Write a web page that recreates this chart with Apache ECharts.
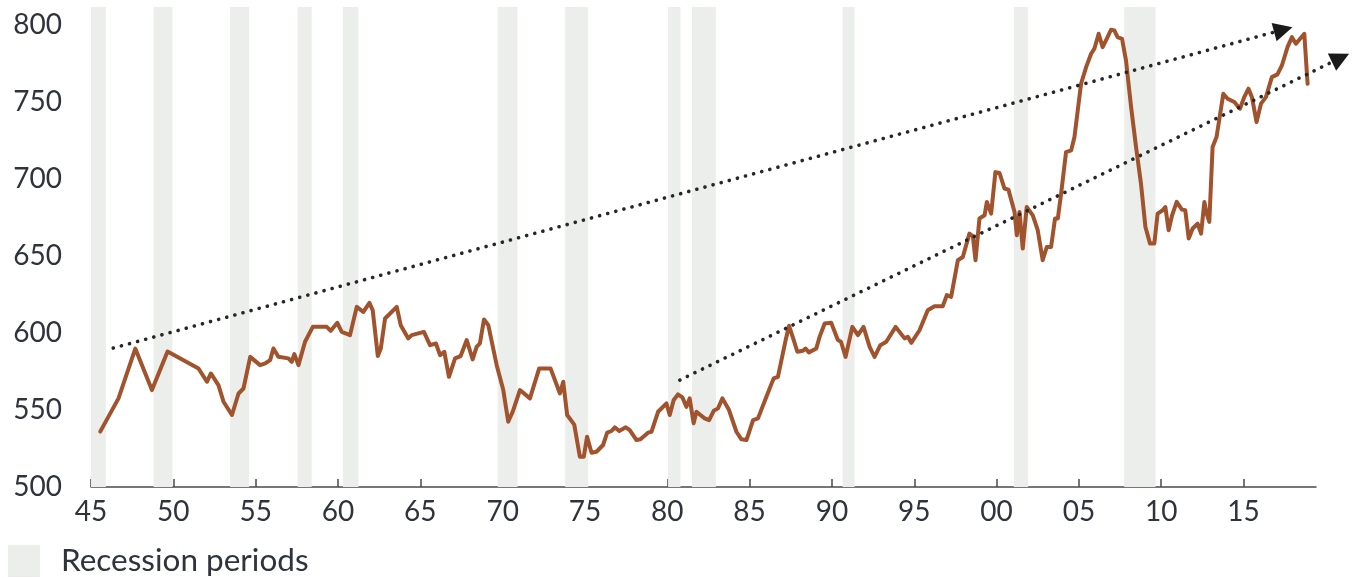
<!DOCTYPE html>
<html>
<head>
<meta charset="utf-8">
<script src="https://cdn.jsdelivr.net/npm/echarts@6/dist/echarts.min.js"></script>
<style>
html,body{margin:0;padding:0;background:#fff;}
#chart{width:1361px;height:578px;}
</style>
</head>
<body>
<div id="chart"></div>
<script>
// ---- data ----
const years = [
1945.56,1946.67,1947.69,1948.70,1949.65,1951.53,1952.04,1952.28,1952.74,1953.05,1953.56,1953.96,1954.26,1954.67,
1955.27,1955.58,1955.88,1956.08,1956.38,1956.99,1957.19,1957.35,1957.60,1958.00,1958.47,1959.32,1959.56,1959.96,
1960.23,1960.73,1961.14,1961.54,1961.91,1962.11,1962.42,1962.60,1962.86,1963.57,1963.81,1964.27,1964.48,1965.22,
1965.59,1965.95,1966.20,1966.46,1966.74,1967.11,1967.45,1967.82,1968.18,1968.42,1968.62,1968.87,1969.13,1969.64,
1970.04,1970.34,1970.61,1971.05,1971.66,1972.22,1972.91,1973.48,1973.68,1973.92,1974.35,1974.69,1974.93,1975.13,
1975.40,1975.70,1976.10,1976.35,1976.61,1976.81,1977.08,1977.48,1977.72,1978.13,1978.37,1978.83,1979.04,1979.44,
1979.95,1980.15,1980.39,1980.65,1980.92,1981.16,1981.36,1981.60,1981.77,1982.27,1982.54,1982.82,1983.08,1983.35,
1983.75,1984.20,1984.50,1984.81,1985.21,1985.51,1986.02,1986.46,1986.72,1987.19,1987.40,1987.68,1987.90,1988.24,
1988.40,1988.60,1989.05,1989.25,1989.56,1989.96,1990.36,1990.55,1990.83,1991.24,1991.58,1991.92,1992.29,1992.59,
1992.94,1993.30,1993.87,1994.41,1994.61,1994.82,1995.32,1995.82,1996.23,1996.73,1996.98,1997.24,1997.65,1997.95,
1998.35,1998.56,1998.72,1998.96,1999.27,1999.41,1999.67,1999.93,2000.18,2000.48,2000.72,2001.09,2001.23,2001.39,
2001.59,2001.83,2002.20,2002.50,2002.80,2003.05,2003.31,2003.55,2003.72,2003.92,2004.22,2004.53,2004.73,2005.13,
2005.44,2005.74,2005.94,2006.20,2006.44,2006.69,2006.95,2007.15,2007.35,2007.62,2007.86,2008.17,2008.47,2008.77,
2009.04,2009.32,2009.58,2009.78,2010.09,2010.25,2010.45,2010.66,2010.94,2011.26,2011.46,2011.67,2011.91,2012.21,
2012.42,2012.62,2012.76,2012.92,2013.12,2013.36,2013.77,2014.03,2014.44,2014.78,2015.04,2015.30,2015.51,2015.79,
2016.06,2016.36,2016.72,2017.06,2017.33,2017.67,2017.94,2018.18,2018.69,2018.89
];
const values = [
536,557.6,590,563,588,577,568.4,573.8,566.2,555.4,546.8,560.8,564,584.6,
579.2,580.3,582.5,590,584.6,583.6,581.4,586.4,579.2,594.4,604.1,604.1,601.5,606.7,
600.8,598.7,617.1,613.8,619.7,614.9,585.1,590,609.5,617.1,605.2,596.6,598.7,600.8,
592.2,593.3,585.7,587.9,571.6,583.6,585.1,595.5,582.9,591.1,593.3,608.9,605.2,579.2,
563,542.4,548.9,563,557.6,577.1,577.1,560.8,568.4,546.8,540.5,519.7,519.7,532.7,
522.3,522.9,527.3,535.3,536.4,538.8,536.4,538.8,537,530.5,531,535.3,535.9,548.9,
554.3,546.8,556.5,560.2,558.2,552.1,557.6,541.4,548.9,544.6,543.5,549.5,551.1,557.6,
550,535.9,531,530.5,543.5,544.6,558.6,570.6,571.6,595.5,604.8,595.5,587.9,588.5,
590,587.5,590,597.6,606.3,606.7,595.5,594.4,584.6,604.1,598.7,604.1,591.1,584.6,
592.2,594.4,604.1,596.6,597.6,593.7,601.9,614.9,617.5,617.5,624.7,623.6,647.4,649.5,
664.7,663,647.4,674.5,676.6,685.3,677.7,704.7,704.1,694,693.3,678.8,663.6,678.8,
655,682,676.6,666.9,647.4,656,656,674.5,674.5,690.7,717.7,718.8,727.5,762.1,
772.9,781.6,784.9,794.6,785.9,791.3,797.2,796.8,792.4,791.3,777.3,747,721,697.2,
669,658.2,658.2,677.7,679.9,682,666.9,676.6,685.3,680.3,679.9,661.5,668,671.2,
664.7,685.3,677.7,672.3,721,727.5,755.6,752.4,750.2,745.9,753.4,758.9,753.4,737.2,
749.2,753.4,766.4,768.2,774,785.9,792.4,788.1,794.6,762.1
];
// recession periods [start, end] in years
const recessionStarts = [1945.0,1948.8,1953.45,1957.55,1960.3,1969.7,1973.8,1980.05,1981.5,1990.65,2001.05,2007.75];
const recessionEnds   = [1945.9,1949.95,1954.6,1958.4,1961.25,1970.9,1975.2,1980.8,1982.95,1991.38,2001.92,2009.65];
// trend arrows [startYear, startValue, endYear, endValue]
const trendStartYears  = [1946.35, 1980.76];
const trendStartValues = [590.3, 569.5];
const trendEndYears    = [2017.97, 2021.41];
const trendEndValues   = [798.9, 781.6];
const xTickYears = [1945,1950,1955,1960,1965,1970,1975,1980,1985,1990,1995,2000,2005,2010,2015];
const yTickValues = [500,550,600,650,700,750,800];
const legendLabel = 'Recession periods';

// ---- chart ----
const X_MIN = 1945, X_MAX = 2019.4, Y_MIN = 500, Y_MAX = 812;
const TEXT = '#2f343c';
const FONT = 'Lato';

const lineData = years.map((y, i) => [y, values[i]]);
const bandData = recessionStarts.map((s, i) => [s, recessionEnds[i]]);
const trendData = trendStartYears.map((s, i) => [s, trendStartValues[i], trendEndYears[i], trendEndValues[i]]);

const chart = echarts.init(document.getElementById('chart'), null, {renderer: 'canvas'});
chart.setOption({
  animation: false,
  backgroundColor: '#ffffff',
  grid: {left: 91, right: 45, top: 7, bottom: 91, containLabel: false},
  legend: {
    data: [legendLabel],
    left: 3, top: 540,
    itemWidth: 32, itemHeight: 32,
    icon: 'rect',
    selectedMode: false,
    textStyle: {fontFamily: FONT, fontSize: 31.5, color: TEXT, padding: [5, 0, 0, 16]}
  },
  xAxis: {
    type: 'value', min: X_MIN, max: X_MAX,
    axisLine: {show: true, lineStyle: {color: '#4a4a4a', width: 1.5}},
    axisTick: {show: true, inside: true, length: 8, lineStyle: {color: '#4a4a4a', width: 1.5}, customValues: xTickYears},
    splitLine: {show: false},
    axisLabel: {
      customValues: xTickYears,
      formatter: v => String(Math.round(v) % 100).padStart(2, '0'),
      fontFamily: FONT, fontSize: 28, color: TEXT, margin: 11
    }
  },
  yAxis: {
    type: 'value', min: Y_MIN, max: Y_MAX,
    axisLine: {show: false}, axisTick: {show: false}, splitLine: {show: false},
    axisLabel: {customValues: yTickValues, fontFamily: FONT, fontSize: 28, color: TEXT, margin: 29}
  },
  series: [
    {
      name: legendLabel,
      type: 'custom',
      data: bandData,
      encode: {x: [0, 1]},
      itemStyle: {color: '#eceeeb'},
      z: 1,
      renderItem: (params, api) => {
        const p0 = api.coord([api.value(0), Y_MAX]);
        const p1 = api.coord([api.value(1), Y_MIN]);
        return {type: 'rect', shape: {x: p0[0], y: p0[1], width: p1[0] - p0[0], height: p1[1] - p0[1]},
                style: {fill: '#eceeeb'}};
      }
    },
    {
      name: 'Index',
      type: 'line',
      data: lineData,
      showSymbol: false, symbol: 'none',
      lineStyle: {color: '#a0532d', width: 4, join: 'round', cap: 'round'},
      itemStyle: {color: '#a0532d'},
      z: 3
    },
    {
      name: 'Trend',
      type: 'custom',
      data: trendData,
      encode: {x: [0, 2], y: [1, 3]},
      clip: false,
      z: 4,
      renderItem: (params, api) => {
        const p0 = api.coord([api.value(0), api.value(1)]);
        const p1 = api.coord([api.value(2), api.value(3)]);
        const dx = p1[0] - p0[0], dy = p1[1] - p0[1];
        const len = Math.hypot(dx, dy);
        const ux = dx / len, uy = dy / len;
        const L = 19, W = 9.5;
        const bx = p1[0] - ux * L, by = p1[1] - uy * L;
        return {type: 'group', children: [
          {type: 'line', shape: {x1: p0[0], y1: p0[1], x2: bx, y2: by},
           style: {stroke: '#262626', lineWidth: 3.6, lineDash: [0.1, 8.3], lineCap: 'round'}},
          {type: 'polygon', shape: {points: [[p1[0], p1[1]], [bx - uy * W, by + ux * W], [bx + uy * W, by - ux * W]]},
           style: {fill: '#1a1a1a'}}
        ]};
      }
    }
  ]
});
</script>
</body>
</html>
